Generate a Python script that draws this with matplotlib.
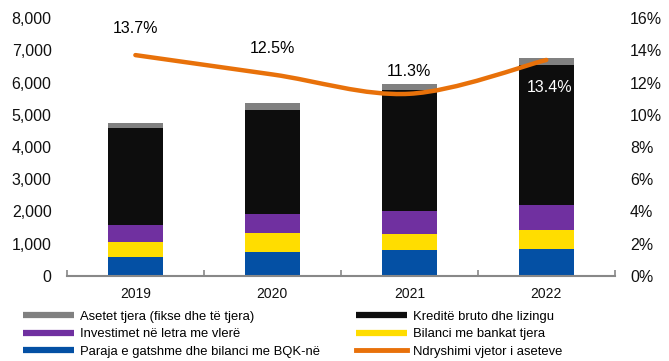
import matplotlib
matplotlib.use("Agg")
import matplotlib.pyplot as plt
from matplotlib.path import Path
from matplotlib.patches import PathPatch
from matplotlib.lines import Line2D
import numpy as np

plt.rcParams['font.family'] = ['Liberation Sans', 'DejaVu Sans']

years = ['2019', '2020', '2021', '2022']
paraja = [590, 750, 800, 850]
bilanci_bankat = [460, 580, 500, 580]
investimet = [530, 590, 700, 770]
kredite = [3000, 3230, 3770, 4340]
asetet_tjera = [160, 210, 180, 220]
ndryshimi = [13.7, 12.5, 11.3, 13.4]

series = [
    (paraja, '#0450A4', 'Paraja e gatshme dhe bilanci me BQK-në'),
    (bilanci_bankat, '#FFDD00', 'Bilanci me bankat tjera'),
    (investimet, '#7030A0', 'Investimet në letra me vlerë'),
    (kredite, '#0D0D0D', 'Kreditë bruto dhe lizingu'),
    (asetet_tjera, '#808080', 'Asetet tjera (fikse dhe të tjera)'),
]
line_color = '#E8710A'
line_label = 'Ndryshimi vjetor i aseteve'

fig = plt.figure(figsize=(6.69, 3.61), dpi=100)
ax = fig.add_axes([0.100, 0.2355, 0.819, 0.7146])
x = np.arange(len(years))
bottom = np.zeros(len(years))
handles = {}
for vals, col, lab in series:
    ax.bar(x, vals, width=0.4, bottom=bottom, color=col, edgecolor='none')
    bottom += np.array(vals)
    handles[lab] = Line2D([], [], color=col, lw=4.5, solid_capstyle='butt')

ax.set_xlim(-0.5, len(years) - 0.5)
ax.set_ylim(0, 8000)
ax.set_yticks(np.arange(0, 8001, 1000))
ax.set_yticklabels([f'{v:,}' for v in range(0, 8001, 1000)])
ax.set_xticks(x)
ax.set_xticklabels(years)
ax.set_xticks(np.arange(-0.5, len(years)), minor=True)
for s in ['top', 'left', 'right']:
    ax.spines[s].set_visible(False)
ax.spines['bottom'].set_color('#888888')
ax.spines['bottom'].set_linewidth(1.5)
ax.tick_params(axis='y', length=0, pad=11, labelsize=11.5, colors='#111111')
ax.tick_params(axis='x', which='major', length=0, pad=8, labelsize=10, colors='#111111')
ax.tick_params(axis='x', which='minor', length=4, direction='in', color='#888888', width=1.2)

ax2 = ax.twinx()
ax2.set_ylim(0, 16)
ax2.set_yticks(np.arange(0, 17, 2))
ax2.set_yticklabels([f'{v}%' for v in range(0, 17, 2)])
for s in ['top', 'left', 'right', 'bottom']:
    ax2.spines[s].set_visible(False)
ax2.tick_params(axis='y', length=0, pad=11, labelsize=11.5, colors='#111111')

# smooth line (Catmull-Rom -> Bezier) through data points
pts = np.column_stack([x, ndryshimi]).astype(float)
ext = np.vstack([pts[0], pts, pts[-1]])
verts = [tuple(pts[0])]
codes = [Path.MOVETO]
for i in range(len(pts) - 1):
    p0, p1, p2, p3 = ext[i], ext[i + 1], ext[i + 2], ext[i + 3]
    c1 = p1 + (p2 - p0) / 6.0
    c2 = p2 - (p3 - p1) / 6.0
    verts += [tuple(c1), tuple(c2), tuple(p2)]
    codes += [Path.CURVE4] * 3
ax2.add_patch(PathPatch(Path(verts, codes), facecolor='none', edgecolor=line_color,
                        lw=3.2, capstyle='round'))
handles[line_label] = Line2D([], [], color=line_color, lw=3.5)

offsets = [(0, 19, 'k'), (0, 19, 'k'), (0, 16, 'k'), (2, -20, 'white')]
for xi, v, (dx, dy, c) in zip(x, ndryshimi, offsets):
    ax2.annotate(f'{v}%', (xi, v), xytext=(dx, dy), textcoords='offset points',
                 ha='center', va='center', fontsize=11.5, color=c)

col1 = ['Asetet tjera (fikse dhe të tjera)', 'Investimet në letra me vlerë',
        'Paraja e gatshme dhe bilanci me BQK-në']
col2 = ['Kreditë bruto dhe lizingu', 'Bilanci me bankat tjera', line_label]
for labs, xpos in [(col1, 0.034), (col2, 0.532)]:
    fig.legend([handles[l] for l in labs], labs, loc='upper left',
               bbox_to_anchor=(xpos, 0.14), frameon=False, fontsize=9.4,
               handlelength=3.9, handletextpad=0.45, labelspacing=0.42,
               borderaxespad=0, borderpad=0)

fig.savefig('out.png', dpi=100)
